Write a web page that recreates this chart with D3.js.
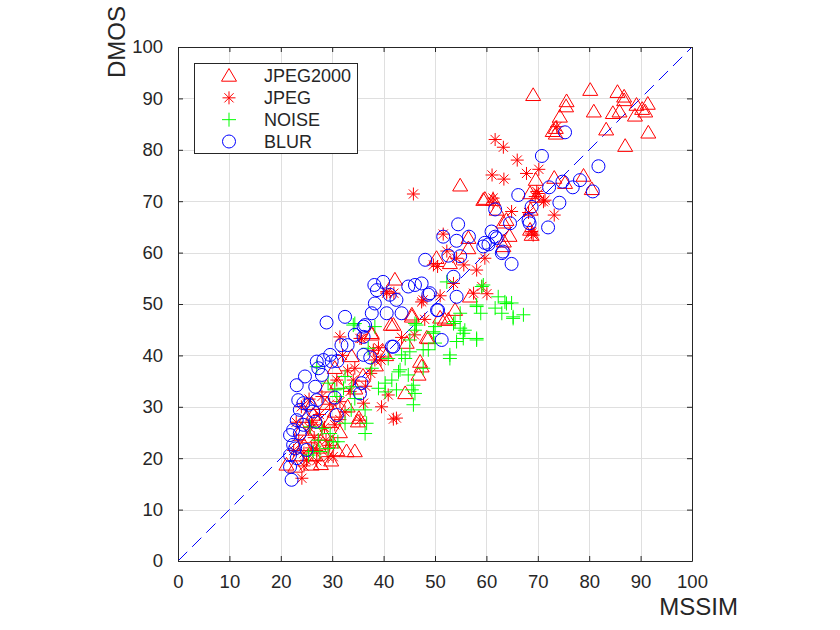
<!DOCTYPE html>
<html>
<head>
<meta charset="utf-8">
<script src="https://cdn.jsdelivr.net/npm/d3@7"></script>
<style>
  body { margin: 0; background: #fff; }
  svg text { font-family: "Liberation Sans", Arial, sans-serif; fill: #262626; }
</style>
</head>
<body>
<div id="chart"></div>
<script>
var width = 840,
  height = 630;

// plot box
var boxLeft = 178, boxTop = 47, boxSize = 514;

var xTicks = [0, 10, 20, 30, 40, 50, 60, 70, 80, 90, 100];
var yTicks = [0, 10, 20, 30, 40, 50, 60, 70, 80, 90, 100];

var seriesNames = ["JPEG2000", "JPEG", "NOISE", "BLUR"];

// [MSSIM, DMOS]
var jp2kPoints = [
  [69.1,90.6],[80.2,91.6],[85.5,91.2],[86.8,90.3],[86.8,89.6],[75.6,89.4],[75.5,88.4],[89.2,88.7],
  [91.4,88.9],[90.3,87.9],[80.9,87.4],[84.6,87.1],[85.9,87.4],[88.9,86.6],[90.9,87.4],[74.3,86.4],
  [73.5,84.2],[72.9,83.6],[73.5,83.1],[83.3,83.9],[91.5,83.3],[87.0,80.7],[78.9,74.9],[80.5,72.3],
  [73.2,74.5],[69.6,74.1],[59.7,70.4],[61.3,70.2],[63.3,65.8],[64.5,63.2],[68.5,71.5],[69.8,70.8],
  [68.6,68.3],[68.5,64.4],[68.8,63.4],[63.4,62.1],[75.3,73.5],[54.9,73.0],[59.4,70.2],[62.0,68.3],
  [63.9,66.3],[56.5,62.8],[56.5,60.8],[50.3,58.9],[52.9,57.9],[42.2,54.7],[45.5,47.9],[48.7,43.3],
  [51.9,46.9],[56.8,51.4],[37.7,44.0],[39.9,40.7],[63.3,61.2],[53.9,48.8],[52.6,46.9],[47.4,37.8],
  [46.8,36.2],[44.2,32.6],[45.5,47.5],[44.5,42.4],[33.8,39.8],[37.7,44.3],[41.9,45.9],[30.5,37.5],
  [34.4,21.3],[32.8,21.3],[26.0,18.7],[21.1,18.7],[35.0,27.1],[28.9,33.9],[22.8,18.3],[24.5,22.5],
  [25.5,24.0],[26.5,20.5],[27.5,22.0],[28.5,24.5],[29.5,27.0],[30.5,29.0],[31.5,25.0],[27.0,27.5],
  [25.0,28.0],[33.0,30.0],[34.5,33.5],[36.0,36.0],[38.5,38.0],[40.5,40.0],[29.0,30.5],[31.0,34.5],
  [23.5,20.5],[24.0,25.5],[26.0,30.5],[35.2,27.8],[26.3,28.4],[47.1,38.7],[48.4,43.4],[51.0,47.3],
  [41.4,45.9],[27.8,18.8],[29.8,19.5],[31.0,21.5],[26.8,25.5],[28.2,22.8],[30.0,23.0]
];

var jpegPoints = [
  [61.7,82.0],[63.3,80.5],[66.0,78.0],[61.1,75.1],[63.4,74.3],[67.8,75.4],[70.2,76.2],[69.8,71.9],
  [71.4,70.2],[64.9,68.0],[68.2,67.8],[73.2,67.3],[68.8,63.8],[61.3,69.8],[73.7,84.5],[45.8,71.4],
  [61.3,70.6],[68.8,64.1],[70.1,71.5],[69.5,70.9],[71.1,69.9],[69.1,63.4],[51.6,63.6],[52.3,60.3],
  [54.2,58.9],[55.6,57.6],[58.1,56.6],[50.5,57.3],[59.7,58.9],[57.5,52.1],[60.1,52.0],[59.1,53.4],
  [47.4,50.4],[51.0,51.6],[49.7,57.6],[53.6,54.0],[40.6,52.4],[35.7,43.3],[47.7,50.8],[42.5,27.8],
  [31.5,43.6],[35.4,43.3],[40.6,52.1],[42.0,52.1],[30.9,35.2],[34.4,37.5],[34.1,35.2],[38.3,39.1],
  [39.5,39.1],[33.0,37.0],[41.9,27.6],[39.6,30.0],[40.9,32.3],[36.1,30.7],[35.4,27.4],[29.2,20.3],
  [30.2,20.3],[24.1,16.1],[25.0,19.6],[23.5,23.5],[24.5,21.0],[25.5,26.0],[26.5,24.0],[27.5,28.5],
  [28.5,26.0],[29.5,30.5],[30.5,26.5],[31.5,31.0],[32.5,29.0],[24.0,30.0],[26.0,22.0],[27.0,19.5],
  [28.0,32.0],[33.5,33.0],[36.5,34.0],[37.5,36.5],[23.0,27.0],[24.5,18.5],[25.5,31.5],[22.5,21.5],
  [38.0,41.0],[39.0,41.5],[43.5,43.5],[46.0,44.0],[32.0,40.0],[48.0,47.0],[26.0,27.0],[28.8,23.5],
  [27.0,21.5],[31.5,27.5],[29.5,22.5]
];

var noisePoints = [
  [52.3,54.3],[59.4,53.7],[58.1,49.8],[54.9,48.2],[62.3,51.4],[63.9,50.1],[65.2,47.5],[67.2,47.9],
  [53.9,46.6],[54.9,45.3],[55.5,44.3],[58.1,43.0],[49.7,44.3],[52.9,40.1],[47.7,41.1],[46.4,45.9],
  [45.1,43.0],[34.1,45.9],[63.6,50.4],[64.9,50.2],[61.7,49.2],[63.0,48.2],[65.2,47.2],[59.1,53.4],
  [58.1,49.5],[58.9,48.2],[53.6,46.2],[55.8,44.9],[55.5,43.3],[58.1,43.3],[54.2,42.7],[52.9,39.4],
  [50.0,45.6],[49.7,44.6],[46.1,46.2],[46.1,44.9],[45.1,40.7],[43.5,40.1],[44.2,39.4],[48.7,41.1],
  [50.0,42.4],[47.7,37.5],[42.9,36.8],[44.8,36.2],[45.8,34.2],[45.5,33.3],[46.1,32.6],[45.8,30.4],
  [42.5,33.3],[34.4,46.2],[38.3,45.6],[37.0,41.4],[37.7,37.5],[40.9,39.4],[43.2,37.2],[41.6,35.2],
  [40.3,34.6],[32.5,35.9],[29.2,34.6],[27.0,37.8],[33.8,33.9],[30.5,33.3],[30.9,32.0],[32.2,33.6],
  [34.4,31.6],[33.7,29.4],[36.4,29.4],[36.7,26.8],[36.4,24.8],[32.5,26.8],[29.6,24.8],[30.2,23.2],
  [31.1,23.2],[27.3,23.5],[26.3,21.3],[27.6,21.3],[29.2,21.9],[25.4,20.6],[25.7,26.1],[28.0,25.8],
  [39.0,33.6],[40.3,32.9]
];

var blurPoints = [
  [75.3,83.4],[70.8,78.8],[81.8,76.8],[66.2,71.2],[72.2,72.7],[74.8,73.8],[76.8,72.7],[78.2,74.1],
  [80.7,71.9],[68.8,68.9],[74.2,69.7],[64.6,65.7],[68.2,66.3],[72.0,64.9],[61.0,64.1],[61.7,63.1],
  [59.7,61.9],[63.2,60.2],[61.7,68.4],[54.5,65.5],[51.6,63.1],[54.2,62.3],[56.6,63.1],[60.4,61.6],
  [62.0,62.8],[59.4,61.2],[63.0,59.9],[64.9,57.8],[68.4,65.7],[48.1,58.6],[52.6,59.4],[54.9,59.3],
  [53.6,55.3],[54.2,51.4],[50.6,48.8],[51.3,43.0],[39.9,54.3],[38.7,52.7],[38.3,50.1],[40.6,48.2],
  [42.5,50.8],[44.8,53.4],[46.1,53.7],[47.4,54.0],[49.0,52.1],[36.4,45.9],[34.4,44.0],[36.1,43.6],
  [41.9,41.7],[43.5,48.2],[48.7,51.8],[50.4,48.8],[38.2,53.7],[41.2,51.8],[37.7,48.2],[36.1,45.6],
  [32.5,47.5],[28.9,46.4],[31.8,42.0],[33.0,42.0],[29.6,40.1],[28.3,39.1],[27.0,38.8],[29.9,38.8],
  [31.0,38.9],[27.3,37.5],[28.0,36.2],[24.7,35.9],[23.1,34.2],[26.7,33.9],[36.1,40.1],[37.4,39.6],
  [41.6,41.7],[35.7,34.6],[23.4,31.3],[24.4,30.7],[25.4,30.4],[23.7,29.4],[27.0,31.3],[30.5,31.8],
  [35.4,32.6],[30.9,28.4],[26.7,27.1],[23.1,27.4],[22.4,25.5],[23.7,24.8],[21.8,24.5],[22.4,22.6],
  [21.8,20.6],[23.1,20.0],[22.1,15.8],[22.8,21.9],[25.0,21.6],[21.8,18.3],[24.4,26.5],[26.3,29.1]
];

var svg = d3.select("#chart").append("svg")
  .attr("width", width)
  .attr("height", height);

var x = d3.scaleLinear().domain([0, 100]).range([boxLeft, boxLeft + boxSize]);
var y = d3.scaleLinear().domain([0, 100]).range([boxTop + boxSize, boxTop]);

// grid
var grid = svg.append("g").attr("stroke", "#dfdfdf").attr("stroke-width", 1);
grid.selectAll(".gx").data(xTicks.slice(1, -1)).enter().append("line")
  .attr("x1", d => Math.round(x(d)) + 0.5).attr("x2", d => Math.round(x(d)) + 0.5)
  .attr("y1", boxTop).attr("y2", boxTop + boxSize);
grid.selectAll(".gy").data(yTicks.slice(1, -1)).enter().append("line")
  .attr("y1", d => Math.round(y(d)) + 0.5).attr("y2", d => Math.round(y(d)) + 0.5)
  .attr("x1", boxLeft).attr("x2", boxLeft + boxSize);

// diagonal reference
svg.append("line")
  .attr("x1", x(0)).attr("y1", y(0))
  .attr("x2", x(100)).attr("y2", y(100))
  .attr("stroke", "#0000ff")
  .attr("stroke-width", 1)
  .attr("stroke-dasharray", "13,7");

// marker shapes
function markerPath(kind) {
  if (kind === "JPEG2000") return "M0,-7.5L7.5,5.2L-7.5,5.2Z";
  if (kind === "JPEG") return "M0,-6.5V6.5M-6.5,0H6.5M-4.6,-4.6L4.6,4.6M-4.6,4.6L4.6,-4.6";
  if (kind === "NOISE") return "M0,-7V7M-7,0H7";
  return null;
}
var colors = { JPEG2000: "#ff0000", JPEG: "#ff0000", NOISE: "#00ff00", BLUR: "#0000ff" };

function drawMarks(g, kind, points) {
  if (kind === "BLUR") {
    g.selectAll("circle").data(points).enter().append("circle")
      .attr("cx", d => x(d[0])).attr("cy", d => y(d[1]))
      .attr("r", 6.5)
      .attr("fill", "none").attr("stroke", colors[kind]).attr("stroke-width", 1);
  } else {
    g.selectAll("path").data(points).enter().append("path")
      .attr("d", markerPath(kind))
      .attr("transform", d => "translate(" + x(d[0]) + "," + y(d[1]) + ")")
      .attr("fill", "none").attr("stroke", colors[kind]).attr("stroke-width", 1);
  }
}

var plot = svg.append("g");
drawMarks(plot.append("g"), "JPEG2000", jp2kPoints);
drawMarks(plot.append("g"), "JPEG", jpegPoints);
drawMarks(plot.append("g"), "NOISE", noisePoints);
drawMarks(plot.append("g"), "BLUR", blurPoints);

// axes box with inward ticks
var axisColor = "#262626";
var xAxis = svg.append("g").attr("transform", "translate(0," + (boxTop + boxSize) + ")")
  .call(d3.axisBottom(x).tickValues(xTicks).tickSizeInner(-5).tickSizeOuter(0).tickPadding(14));
var xAxisTop = svg.append("g").attr("transform", "translate(0," + boxTop + ")")
  .call(d3.axisTop(x).tickValues(xTicks).tickSizeInner(-5).tickSizeOuter(0).tickFormat(""));
var yAxis = svg.append("g").attr("transform", "translate(" + boxLeft + ",0)")
  .call(d3.axisLeft(y).tickValues(yTicks).tickSizeInner(-5).tickSizeOuter(0).tickPadding(15));
var yAxisRight = svg.append("g").attr("transform", "translate(" + (boxLeft + boxSize) + ",0)")
  .call(d3.axisRight(y).tickValues(yTicks).tickSizeInner(-5).tickSizeOuter(0).tickFormat(""));

[xAxis, xAxisTop, yAxis, yAxisRight].forEach(function(a) {
  a.select(".domain").attr("stroke", axisColor);
  a.selectAll(".tick line").attr("stroke", axisColor);
  a.selectAll(".tick text")
    .attr("fill", axisColor)
    .style("font-size", "18.5px")
    .style("font-family", "'Liberation Sans', Arial, sans-serif");
});

// axis labels
svg.append("text")
  .attr("x", 738).attr("y", 615)
  .attr("text-anchor", "end")
  .style("font-size", "24px")
  .text("MSSIM");

svg.append("text")
  .attr("transform", "translate(125,78) rotate(-90)")
  .attr("text-anchor", "start")
  .style("font-size", "24px")
  .text("DMOS");

// legend
var legend = svg.append("g");
legend.append("rect")
  .attr("x", 194.5).attr("y", 63.5)
  .attr("width", 163).attr("height", 90)
  .attr("fill", "#fff")
  .attr("stroke", axisColor)
  .attr("stroke-width", 1);

var rowY = d3.scalePoint().domain(seriesNames).range([76, 141.5]);
seriesNames.forEach(function(name) {
  var row = legend.append("g").attr("transform", "translate(0," + rowY(name) + ")");
  if (name === "BLUR") {
    row.append("circle").attr("cx", 229).attr("cy", 0).attr("r", 6.5)
      .attr("fill", "none").attr("stroke", colors[name]);
  } else {
    row.append("path").attr("d", markerPath(name))
      .attr("transform", "translate(229,0)")
      .attr("fill", "none").attr("stroke", colors[name]);
  }
  row.append("text")
    .attr("x", 264).attr("y", 0)
    .attr("dy", "0.35em")
    .style("font-size", "18px")
    .text(name);
});
</script>
</body>
</html>
